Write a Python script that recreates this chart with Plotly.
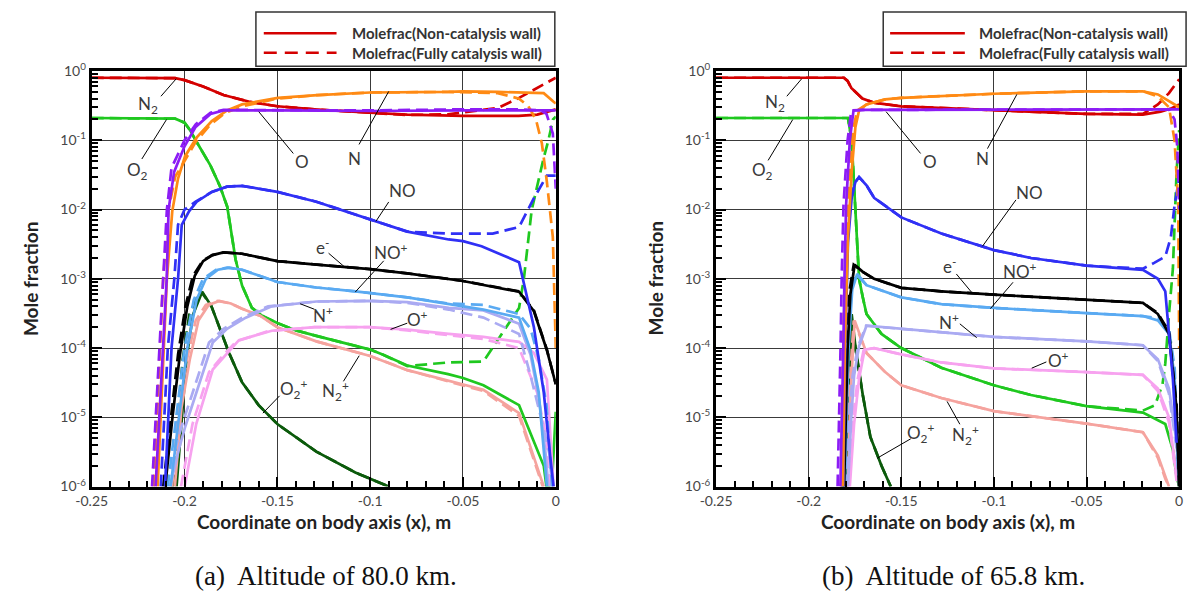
import math
import plotly.graph_objects as go

# ================= DATA =================
# ---- panel (a): altitude 80.0 km ----
A_N2_x = [-0.25, -0.21, -0.205, -0.2, -0.19, -0.179, -0.165, -0.15, -0.13, -0.1, -0.08, -0.05, -0.02, -0.01, -0.004, 0]
A_N2_s = [0.80, 0.80, 0.79, 0.74, 0.60, 0.45, 0.36, 0.31, 0.28, 0.25, 0.235, 0.225, 0.225, 0.235, 0.26, 0.28]
A_N2_dx = [-0.25, -0.21, -0.205, -0.2, -0.19, -0.179, -0.165, -0.15, -0.13, -0.1, -0.08, -0.058, -0.031, -0.0198, -0.0048, 0]
A_N2_d = [0.80, 0.80, 0.79, 0.74, 0.60, 0.45, 0.36, 0.31, 0.28, 0.25, 0.232, 0.237, 0.295, 0.41, 0.69, 0.80]

A_O2_x = [-0.25, -0.21, -0.205, -0.2, -0.197, -0.194, -0.19, -0.186, -0.181, -0.177, -0.1725, -0.169, -0.1637,
          -0.158, -0.15, -0.14, -0.129, -0.115, -0.1, -0.093, -0.08, -0.058, -0.05, -0.039, -0.0198, -0.0065,
          -0.0048, -0.002, 0]
A_O2_s = [0.21, 0.21, 0.205, 0.18, 0.14, 0.10, 0.065, 0.043, 0.022, 0.011, 1.9e-3, 8e-4, 3.8e-4,
          2.9e-4, 2.3e-4, 1.8e-4, 1.5e-4, 1.2e-4, 9.5e-5, 8e-5, 5.6e-5, 4.2e-5, 3.7e-5, 2.9e-5, 1.5e-5, 2e-6,
          9e-7, 1.2e-6, 1.2e-5]
A_O2_dx = [-0.25, -0.21, -0.205, -0.2, -0.197, -0.194, -0.19, -0.186, -0.181, -0.177, -0.1725, -0.169, -0.1637,
           -0.158, -0.15, -0.14, -0.129, -0.115, -0.1, -0.093, -0.08, -0.058, -0.039, -0.0243, -0.0198, -0.0172,
           -0.013, -0.0068, -0.004, -0.0015, 0]
A_O2_d = [0.21, 0.21, 0.205, 0.18, 0.14, 0.10, 0.065, 0.043, 0.022, 0.011, 1.9e-3, 8e-4, 3.8e-4,
          2.9e-4, 2.3e-4, 1.8e-4, 1.5e-4, 1.2e-4, 9.5e-5, 8e-5, 5.5e-5, 6.2e-5, 6.4e-5, 2.5e-4, 3.8e-4, 1e-3,
          9.8e-3, 0.052, 0.10, 0.20, 0.22]

A_O_x = [-0.2156, -0.2136, -0.2115, -0.2096, -0.2086, -0.2056, -0.2, -0.194, -0.186, -0.179, -0.15, -0.1, -0.05, -0.02, -0.005, 0]
A_O_s = [1e-6, 1e-5, 1e-4, 1e-3, 1e-2, 0.035, 0.082, 0.156, 0.24, 0.27, 0.27, 0.265, 0.27, 0.27, 0.27, 0.27]
A_O_dx = [-0.2175, -0.2155, -0.2135, -0.2115, -0.2095, -0.207, -0.2, -0.194, -0.186, -0.179, -0.15, -0.1, -0.05, -0.02,
          -0.008, -0.005, -0.0016, -0.0003, 0]
A_O_d = [1e-6, 1e-5, 1e-4, 1e-3, 1e-2, 0.04, 0.10, 0.17, 0.25, 0.275, 0.275, 0.27, 0.28, 0.28,
         0.27, 0.24, 0.125, 0.031, 0.02]

A_N_x = [-0.2145, -0.2115, -0.2095, -0.2066, -0.2035, -0.1997, -0.1934, -0.1853, -0.1771, -0.169, -0.1497, -0.1284,
         -0.1, -0.0577, -0.05, -0.0313, -0.0065, -0.0012, 0]
A_N_s = [1e-6, 5e-5, 1e-3, 9.5e-3, 0.028, 0.059, 0.11, 0.19, 0.27, 0.33, 0.41, 0.45,
         0.49, 0.50, 0.51, 0.50, 0.48, 0.36, 0.34]
A_N_dx = [-0.2165, -0.2135, -0.2115, -0.2086, -0.205, -0.2, -0.194, -0.186, -0.178, -0.169, -0.15, -0.1284,
          -0.1, -0.0577, -0.0313, -0.0198, -0.0148, -0.0107, -0.0075, -0.0048, -0.0016, 0]
A_N_d = [1e-6, 5e-5, 1e-3, 1e-2, 0.03, 0.05, 0.095, 0.17, 0.25, 0.31, 0.40, 0.45,
         0.49, 0.50, 0.48, 0.40, 0.31, 0.20, 0.09, 0.025, 4e-3, 1e-4]

A_NO_x = [-0.2105, -0.207, -0.2035, -0.2015, -0.1975, -0.1934, -0.1853, -0.1771, -0.169, -0.15, -0.129, -0.1, -0.08,
          -0.0577, -0.05, -0.04, -0.0198, -0.0118, -0.0065, -0.003, -0.0012]
A_NO_s = [1e-6, 1e-4, 1e-3, 6e-3, 9.5e-3, 0.013, 0.018, 0.0214, 0.022, 0.018, 0.013, 7.3e-3, 4.8e-3,
          3.7e-3, 3.5e-3, 2.95e-3, 1.74e-3, 2e-4, 2.3e-5, 2.7e-6, 1e-6]
A_NO_dx = [-0.2128, -0.209, -0.2055, -0.2035, -0.2, -0.194, -0.1853, -0.1771, -0.169, -0.15, -0.129, -0.1, -0.08,
           -0.0577, -0.034, -0.0198, -0.0118, -0.0048, 0]
A_NO_d = [1e-6, 1e-4, 1e-3, 6e-3, 0.010, 0.013, 0.018, 0.0214, 0.022, 0.018, 0.013, 7.3e-3, 4.8e-3,
          4.5e-3, 4.5e-3, 5.6e-3, 0.0146, 0.031, 0.031]

A_E_x = [-0.2104, -0.2065, -0.2025, -0.1985, -0.1945, -0.19, -0.185, -0.179, -0.169, -0.15, -0.129, -0.1, -0.08,
         -0.0577, -0.05, -0.0198, -0.0118, -0.0048, -0.0012, 0]
A_E_s = [1e-6, 1e-5, 8e-5, 4e-4, 1.1e-3, 1.8e-3, 2.2e-3, 2.4e-3, 2.3e-3, 1.8e-3, 1.6e-3, 1.38e-3, 1.2e-3,
         1.0e-3, 9.3e-4, 6.5e-4, 3.4e-4, 9.3e-5, 4e-5, 3e-5]
A_E_dx = [-0.2115, -0.2075, -0.2035, -0.1995, -0.1955, -0.19, -0.185, -0.179, -0.169, -0.15, -0.129, -0.1, -0.08,
          -0.0577, -0.05, -0.0198, -0.0118, -0.0048, -0.0012, 0]
A_E_d = [1e-6, 1e-5, 8e-5, 4e-4, 1.1e-3, 1.85e-3, 2.2e-3, 2.4e-3, 2.3e-3, 1.8e-3, 1.6e-3, 1.38e-3, 1.2e-3,
         1.0e-3, 9.3e-4, 6.6e-4, 3.5e-4, 9.5e-5, 4e-5, 3e-5]

A_NOP_x = [-0.2075, -0.203, -0.1985, -0.1935, -0.1885, -0.182, -0.176, -0.169, -0.15, -0.129, -0.108, -0.08,
           -0.0577, -0.039, -0.0198, -0.0136, -0.0092, -0.0048]
A_NOP_s = [1e-6, 1e-5, 1e-4, 5e-4, 1.0e-3, 1.35e-3, 1.45e-3, 1.35e-3, 9e-4, 7.5e-4, 6.6e-4, 5.4e-4,
           4.3e-4, 3.6e-4, 2.75e-4, 9.3e-5, 2.3e-5, 1e-6]
A_NOP_dx = [-0.209, -0.2045, -0.2, -0.195, -0.19, -0.183, -0.177, -0.169, -0.15, -0.129, -0.108, -0.08,
            -0.0577, -0.039, -0.0198, -0.0136, -0.0092, -0.005, -0.002]
A_NOP_d = [1e-6, 1e-5, 1e-4, 5e-4, 1.0e-3, 1.35e-3, 1.45e-3, 1.35e-3, 9e-4, 7.5e-4, 6.6e-4, 5.4e-4,
           4.4e-4, 4.2e-4, 3.1e-4, 1.9e-4, 7e-5, 1.5e-5, 1e-6]

A_NP_x = [-0.2078, -0.203, -0.1995, -0.1937, -0.1848, -0.1771, -0.167, -0.153, -0.129, -0.1, -0.08, -0.0577,
          -0.039, -0.0198, -0.0136, -0.009, -0.0055, -0.004]
A_NP_s = [1e-6, 3.5e-6, 7.5e-6, 2.3e-5, 1.2e-4, 1.9e-4, 2.75e-4, 4e-4, 4.7e-4, 4.8e-4, 4.6e-4, 3.8e-4,
          3.5e-4, 2.25e-4, 8e-5, 1.8e-5, 3e-6, 1e-6]
A_NP_dx = [-0.2098, -0.205, -0.2015, -0.1957, -0.1868, -0.179, -0.169, -0.155, -0.129, -0.1, -0.08, -0.0577,
           -0.039, -0.0198, -0.0136, -0.008, -0.0035, -0.002]
A_NP_d = [1e-6, 3.5e-6, 7.5e-6, 2.3e-5, 1.2e-4, 1.9e-4, 2.75e-4, 4e-4, 4.7e-4, 4.8e-4, 4.5e-4, 3.6e-4,
          2.75e-4, 1.6e-4, 4e-5, 1e-5, 3e-6, 1e-6]

A_OP_x = [-0.1999, -0.1937, -0.1848, -0.1771, -0.1707, -0.153, -0.13, -0.1, -0.08, -0.0577, -0.039, -0.0198,
          -0.0118, -0.0048, -0.0012]
A_OP_s = [1e-6, 8e-6, 4.9e-5, 8.5e-5, 1.3e-4, 1.78e-4, 2e-4, 2e-4, 1.85e-4, 1.6e-4, 1.45e-4, 1.23e-4,
          8.5e-5, 3.5e-5, 1e-6]
A_OP_dx = [-0.2019, -0.1957, -0.1868, -0.179, -0.172, -0.155, -0.13, -0.1, -0.08, -0.0577, -0.039, -0.0198,
           -0.0101, -0.005, -0.003]
A_OP_d = [1e-6, 8e-6, 4.5e-5, 8e-5, 1.25e-4, 1.75e-4, 2e-4, 2e-4, 1.8e-4, 1.55e-4, 1.35e-4, 1.0e-4,
          2.3e-5, 5e-6, 1e-6]

A_O2P_x = [-0.2043, -0.2016, -0.199, -0.1955, -0.1905, -0.1855, -0.1831, -0.176, -0.169, -0.1601, -0.15, -0.129,
           -0.108, -0.09]
A_O2P_s = [1e-6, 1e-5, 6.8e-5, 3e-4, 6.5e-4, 4e-4, 2.75e-4, 8.5e-5, 3.2e-5, 1.5e-5, 8e-6, 3.2e-6, 1.6e-6, 1e-6]
A_O2P_dx = [-0.2063, -0.2036, -0.201, -0.1975, -0.1915, -0.1855, -0.1831, -0.176, -0.169, -0.1601, -0.15, -0.129,
            -0.108, -0.09]
A_O2P_d = [1e-6, 1e-5, 6.8e-5, 3e-4, 6.8e-4, 4e-4, 2.75e-4, 8.5e-5, 3.2e-5, 1.5e-5, 8e-6, 3.2e-6, 1.6e-6, 1e-6]

A_N2P_x = [-0.2052, -0.2016, -0.1972, -0.1925, -0.187, -0.1813, -0.175, -0.169, -0.159, -0.15, -0.129, -0.1,
           -0.08, -0.0577, -0.05, -0.039, -0.0198, -0.0065]
A_N2P_s = [1e-6, 1.4e-5, 6.8e-5, 2.5e-4, 4.2e-4, 4.8e-4, 4.4e-4, 3.7e-4, 2.9e-4, 2e-4, 1.25e-4, 7.7e-5,
           4.8e-5, 3.4e-5, 3e-5, 2.5e-5, 1.15e-5, 1e-6]
A_N2P_dx = [-0.2067, -0.2031, -0.1987, -0.194, -0.1885, -0.1823, -0.175, -0.169, -0.159, -0.15, -0.129, -0.1,
            -0.08, -0.0577, -0.05, -0.039, -0.0198, -0.007]
A_N2P_d = [1e-6, 1.4e-5, 6.8e-5, 2.5e-4, 4.2e-4, 4.8e-4, 4.4e-4, 3.7e-4, 2.9e-4, 2e-4, 1.25e-4, 7.7e-5,
           4.8e-5, 3.3e-5, 2.9e-5, 2.4e-5, 1.05e-5, 1e-6]

# ---- panel (b): altitude 65.8 km ----
B_N2_x = [-0.25, -0.181, -0.179, -0.177, -0.171, -0.165, -0.15, -0.1, -0.05, -0.0196, -0.01, -0.004, 0]
B_N2_s = [0.80, 0.80, 0.72, 0.57, 0.40, 0.35, 0.31, 0.27, 0.24, 0.235, 0.26, 0.29, 0.33]
B_N2_dx = [-0.25, -0.181, -0.179, -0.177, -0.171, -0.165, -0.15, -0.1, -0.05, -0.0196, -0.0115, -0.0055, 0]
B_N2_d = [0.80, 0.80, 0.72, 0.57, 0.40, 0.35, 0.31, 0.27, 0.24, 0.24, 0.33, 0.48, 0.76]

B_O2_x = [-0.25, -0.1788, -0.1768, -0.1748, -0.1728, -0.1708, -0.1688, -0.1607, -0.15, -0.1284, -0.1, -0.08, -0.05,
          -0.0196, -0.0075, -0.0034, -0.0014, 0]
B_O2_s = [0.21, 0.21, 0.10, 9.5e-3, 1e-3, 5.4e-4, 3.1e-4, 1.6e-4, 1e-4, 5.2e-5, 2.9e-5, 2.1e-5, 1.45e-5,
          1.17e-5, 8e-6, 3.4e-6, 1.4e-6, 1e-6]
B_O2_dx = [-0.25, -0.1788, -0.1768, -0.1748, -0.1728, -0.1708, -0.1688, -0.1607, -0.15, -0.1284, -0.1, -0.08, -0.05,
           -0.0196, -0.013, -0.009, -0.0075, -0.0055, -0.0034, -0.0014, 0]
B_O2_d = [0.21, 0.21, 0.10, 9.5e-3, 1e-3, 5.4e-4, 3.1e-4, 1.6e-4, 1e-4, 5.2e-5, 2.9e-5, 2.1e-5, 1.45e-5,
          1.25e-5, 1.5e-5, 3e-5, 6e-5, 3.1e-4, 1.4e-3, 0.035, 0.14]

B_O_x = [-0.1829, -0.182, -0.1813, -0.1807, -0.1798, -0.1778, -0.1758, -0.17, -0.15, -0.1, -0.05, -0.02, -0.005, 0]
B_O_s = [1e-6, 1e-5, 1e-4, 1e-3, 0.0117, 0.10, 0.27, 0.275, 0.275, 0.275, 0.275, 0.28, 0.28, 0.28]
B_O_dx = [-0.1844, -0.1835, -0.1828, -0.1822, -0.1812, -0.179, -0.177, -0.17, -0.15, -0.1, -0.05, -0.02, -0.0055,
          -0.0025, -0.001, 0]
B_O_d = [1e-6, 1e-5, 1e-4, 1e-3, 0.0117, 0.10, 0.27, 0.275, 0.275, 0.275, 0.275, 0.28, 0.28,
         0.2, 0.08, 0.01]

B_N_x = [-0.1815, -0.1805, -0.1788, -0.1768, -0.1748, -0.1728, -0.1688, -0.1587, -0.15, -0.1, -0.05, -0.0196,
         -0.0115, -0.0055, 0]
B_N_s = [1e-6, 1e-4, 4e-3, 0.035, 0.155, 0.27, 0.33, 0.39, 0.41, 0.47, 0.51, 0.51, 0.46, 0.37, 0.30]
B_N_dx = [-0.1825, -0.1815, -0.1798, -0.1778, -0.1758, -0.1738, -0.1688, -0.1587, -0.15, -0.1, -0.05, -0.0196,
          -0.0115, -0.0055, -0.0025, -0.0005, 0]
B_N_d = [1e-6, 1e-4, 4e-3, 0.035, 0.155, 0.27, 0.33, 0.39, 0.41, 0.47, 0.51, 0.51,
         0.43, 0.30, 0.10, 0.012, 1e-4]

B_NO_x = [-0.1813, -0.1803, -0.1788, -0.1768, -0.1748, -0.1728, -0.1688, -0.1647, -0.15, -0.1284, -0.1, -0.08,
          -0.05, -0.0196, -0.0115, -0.0075, -0.0034, -0.0014]
B_NO_s = [1e-6, 1e-4, 3.3e-3, 0.0148, 0.025, 0.0295, 0.0224, 0.0148, 7.7e-3, 4.5e-3, 2.6e-3, 2e-3,
          1.55e-3, 1.35e-3, 1e-3, 6.6e-4, 3.6e-5, 4.3e-6]
B_NO_dx = [-0.1823, -0.1813, -0.1798, -0.1773, -0.1748, -0.1728, -0.1688, -0.1647, -0.15, -0.1284, -0.1, -0.08,
           -0.05, -0.0196, -0.0135, -0.0075, -0.0045, -0.0024, 0]
B_NO_d = [1e-6, 1e-4, 3.3e-3, 0.0148, 0.025, 0.0295, 0.0224, 0.0148, 7.7e-3, 4.5e-3, 2.6e-3, 2e-3,
          1.55e-3, 1.4e-3, 1.7e-3, 2.1e-3, 4e-3, 0.012, 0.028]

B_E_x = [-0.1809, -0.18, -0.179, -0.1775, -0.1752, -0.1708, -0.1647, -0.15, -0.1284, -0.1, -0.05, -0.0196,
         -0.0115, -0.0055, -0.0014, 0]
B_E_s = [1e-6, 1e-5, 1e-4, 6e-4, 1.6e-3, 1.26e-3, 1e-3, 7.4e-4, 6.6e-4, 5.9e-4, 5e-4, 4.5e-4,
         3.1e-4, 1.6e-4, 1.3e-5, 1e-6]
B_E_dx = [-0.1819, -0.181, -0.18, -0.1783, -0.1757, -0.1708, -0.1647, -0.15, -0.1284, -0.1, -0.05, -0.0196,
          -0.0115, -0.0055, -0.0014, 0]
B_E_d = [1e-6, 1e-5, 1e-4, 6e-4, 1.6e-3, 1.26e-3, 1e-3, 7.4e-4, 6.6e-4, 5.9e-4, 5e-4, 4.5e-4,
         3.2e-4, 1.7e-4, 1.5e-5, 1e-6]

B_NOP_x = [-0.1805, -0.1785, -0.1765, -0.1738, -0.1688, -0.15, -0.1284, -0.1, -0.05, -0.0196, -0.0115, -0.0055,
           -0.0024, -0.0004]
B_NOP_s = [1e-6, 1e-4, 7e-4, 1.18e-3, 8.1e-4, 5.4e-4, 4.3e-4, 3.8e-4, 3.2e-4, 2.9e-4, 2.5e-4, 1.6e-4,
           3.6e-5, 1.4e-6]
B_NOP_dx = [-0.1815, -0.1795, -0.1772, -0.1742, -0.1688, -0.15, -0.1284, -0.1, -0.05, -0.0196, -0.0115, -0.0055,
            -0.0024, -0.0004]
B_NOP_d = [1e-6, 1e-4, 7e-4, 1.15e-3, 8.1e-4, 5.4e-4, 4.3e-4, 3.8e-4, 3.2e-4, 2.9e-4, 2.7e-4, 1.9e-4,
           5e-5, 1.6e-6]

B_NP_x = [-0.1788, -0.177, -0.1755, -0.1728, -0.1688, -0.15, -0.1, -0.05, -0.0196, -0.0115, -0.0055, -0.0014, 0]
B_NP_s = [1e-6, 1e-5, 4e-5, 1.07e-4, 2.1e-4, 1.9e-4, 1.45e-4, 1.25e-4, 1.1e-4, 6.9e-5, 2.6e-5, 4.3e-6, 1e-6]
B_NP_dx = [-0.1798, -0.178, -0.1763, -0.1733, -0.169, -0.15, -0.1, -0.05, -0.0196, -0.0115, -0.0055, -0.0014, 0]
B_NP_d = [1e-6, 1e-5, 4e-5, 1.07e-4, 2.1e-4, 1.9e-4, 1.45e-4, 1.25e-4, 1.1e-4, 6.5e-5, 2.2e-5, 3.5e-6, 1e-6]

B_OP_x = [-0.1778, -0.1755, -0.1728, -0.1698, -0.1647, -0.15, -0.1284, -0.1, -0.05, -0.0196, -0.0115, -0.0055,
          -0.0014]
B_OP_s = [1e-6, 8e-6, 3.6e-5, 9.5e-5, 1e-4, 8.1e-5, 6.2e-5, 5.1e-5, 4.5e-5, 4.1e-5, 2.6e-5, 1e-5, 1.4e-6]
B_OP_dx = [-0.1788, -0.1765, -0.1735, -0.1703, -0.1647, -0.15, -0.1284, -0.1, -0.05, -0.0196, -0.0115, -0.0055,
           -0.0014]
B_OP_d = [1e-6, 8e-6, 3.6e-5, 9.5e-5, 1e-4, 8.1e-5, 6.2e-5, 5.1e-5, 4.5e-5, 4.1e-5, 2.4e-5, 8.5e-6, 1.2e-6]

B_O2P_x = [-0.1798, -0.1785, -0.1775, -0.1768, -0.1748, -0.1708, -0.1667, -0.1607, -0.1557]
B_O2P_s = [1e-6, 1e-5, 1e-4, 3.1e-4, 1.07e-4, 2.1e-5, 5.2e-6, 2e-6, 1e-6]
B_O2P_dx = [-0.1808, -0.1795, -0.1782, -0.1772, -0.175, -0.1708, -0.1667, -0.1607, -0.1557]
B_O2P_d = [1e-6, 1e-5, 1e-4, 3.0e-4, 1.07e-4, 2.1e-5, 5.2e-6, 2e-6, 1e-6]

B_N2P_x = [-0.1788, -0.1775, -0.1752, -0.1688, -0.1587, -0.15, -0.1284, -0.1, -0.05, -0.0196, -0.0115, -0.0075,
           -0.0055]
B_N2P_s = [1e-6, 2e-5, 2.5e-4, 8.5e-5, 4.5e-5, 2.9e-5, 1.9e-5, 1.23e-5, 8.1e-6, 6.1e-6, 2.8e-6, 1.4e-6, 1e-6]
B_N2P_dx = [-0.1798, -0.1783, -0.1757, -0.1688, -0.1587, -0.15, -0.1284, -0.1, -0.05, -0.0196, -0.0115, -0.0075,
            -0.0055]
B_N2P_d = [1e-6, 2e-5, 2.5e-4, 8.5e-5, 4.5e-5, 2.9e-5, 1.9e-5, 1.23e-5, 8.1e-6, 6.1e-6, 2.6e-6, 1.3e-6, 1e-6]

# Species labels (text) and their placement in data space (x in m, y as log10 of mole fraction)
LABEL_TEXT = ["N<sub>2</sub>", "O<sub>2</sub>", "O", "N", "NO", "e<sup>-</sup>", "NO<sup>+</sup>",
              "N<sup>+</sup>", "O<sup>+</sup>", "O<sub>2</sub><sup>+</sup>", "N<sub>2</sub><sup>+</sup>"]
A_LBL_X = [-0.2198, -0.2256, -0.1367, -0.1086, -0.0826, -0.1255, -0.089, -0.1255, -0.0747, -0.1409, -0.1186]
A_LBL_Y = [-0.49, -1.44, -1.31, -1.26, -1.73, -2.53, -2.60, -3.51, -3.58, -4.59, -4.62]
A_LD_X0 = [-0.2127, -0.223, -0.1414, -0.106, -0.090, -0.1224, -0.0927, -0.130, -0.080, -0.1488, -0.1144]
A_LD_Y0 = [-0.364, -1.27, -1.19, -1.06, -1.89, -2.63, -2.74, -3.44, -3.64, -4.69, -4.48]
A_LD_X1 = [-0.2045, -0.2097, -0.160, -0.090, -0.0969, -0.1133, -0.108, -0.1377, -0.089, -0.1578, -0.1059]
A_LD_Y1 = [-0.112, -0.70, -0.587, -0.294, -2.17, -2.84, -3.19, -3.36, -3.73, -4.94, -4.11]

B_LBL_X = [-0.2182, -0.225, -0.1346, -0.1062, -0.0807, -0.1242, -0.086, -0.1242, -0.0653, -0.1396, -0.1152]
B_LBL_Y = [-0.46, -1.44, -1.31, -1.26, -1.75, -2.81, -2.88, -3.61, -4.17, -5.22, -5.26]
B_LD_X0 = [-0.2118, -0.2219, -0.1396, -0.1035, -0.0881, -0.1203, -0.0897, -0.1184, -0.0717, -0.1449, -0.1184]
B_LD_Y0 = [-0.364, -1.29, -1.19, -1.12, -1.86, -2.93, -3.05, -3.65, -4.20, -5.31, -5.10]
B_LD_X1 = [-0.2038, -0.2086, -0.1582, -0.0876, -0.1062, -0.1122, -0.1019, -0.1093, -0.0796, -0.163, -0.1253]
B_LD_Y1 = [-0.112, -0.70, -0.587, -0.336, -2.53, -3.19, -3.43, -3.85, -4.29, -5.59, -4.77]

X_TICKS = [-0.25, -0.2, -0.15, -0.1, -0.05, 0]
X_TICK_TEXT = ["-0.25", "-0.2", "-0.15", "-0.1", "-0.05", "0"]
Y_TICKS = [1e-6, 1e-5, 1e-4, 1e-3, 1e-2, 1e-1, 1]
Y_TICK_TEXT = ["10<sup>-6</sup>", "10<sup>-5</sup>", "10<sup>-4</sup>", "10<sup>-3</sup>",
               "10<sup>-2</sup>", "10<sup>-1</sup>", "10<sup>0</sup>"]

LEGEND_TEXT = ["Molefrac(Non-catalysis wall)", "Molefrac(Fully catalysis wall)"]
CAPTIONS = ["(a)  Altitude of 80.0 km.", "(b)  Altitude of 65.8 km."]

# ================= STYLE =================
COLORS = {
    "N2": "#d40000", "O2": "#1fc81f", "O": "#8c1cf5", "N": "#ff8a14", "NO": "#3030f5",
    "E": "#000000", "NOP": "#5aaaf2", "NP": "#aaaaf2", "OP": "#f7a2ef", "O2P": "#0b5a0b", "N2P": "#f5a39e",
}
W = 1194
H = 605
DASH = "12px,6px"
LW = 2.7
SANS = "Lato, Open Sans, sans-serif"
TICKFONT = dict(family=SANS, size=14, color="#474747")
LABELFONT = dict(family=SANS, size=17, color="#3a3a3a")


def px(x):
    return x / W


def py(y):
    return 1 - y / H


panels = {
    "A": dict(xa="x", ya="y", curves=[
        ("N2", A_N2_x, A_N2_s, A_N2_dx, A_N2_d), ("O2", A_O2_x, A_O2_s, A_O2_dx, A_O2_d),
        ("O2P", A_O2P_x, A_O2P_s, A_O2P_dx, A_O2P_d), ("N2P", A_N2P_x, A_N2P_s, A_N2P_dx, A_N2P_d),
        ("OP", A_OP_x, A_OP_s, A_OP_dx, A_OP_d), ("NP", A_NP_x, A_NP_s, A_NP_dx, A_NP_d),
        ("NOP", A_NOP_x, A_NOP_s, A_NOP_dx, A_NOP_d), ("E", A_E_x, A_E_s, A_E_dx, A_E_d),
        ("NO", A_NO_x, A_NO_s, A_NO_dx, A_NO_d), ("N", A_N_x, A_N_s, A_N_dx, A_N_d),
        ("O", A_O_x, A_O_s, A_O_dx, A_O_d)],
        labels=(A_LBL_X, A_LBL_Y, A_LD_X0, A_LD_Y0, A_LD_X1, A_LD_Y1)),
    "B": dict(xa="x2", ya="y2", curves=[
        ("N2", B_N2_x, B_N2_s, B_N2_dx, B_N2_d), ("O2", B_O2_x, B_O2_s, B_O2_dx, B_O2_d),
        ("O2P", B_O2P_x, B_O2P_s, B_O2P_dx, B_O2P_d), ("N2P", B_N2P_x, B_N2P_s, B_N2P_dx, B_N2P_d),
        ("OP", B_OP_x, B_OP_s, B_OP_dx, B_OP_d), ("NP", B_NP_x, B_NP_s, B_NP_dx, B_NP_d),
        ("NOP", B_NOP_x, B_NOP_s, B_NOP_dx, B_NOP_d), ("E", B_E_x, B_E_s, B_E_dx, B_E_d),
        ("NO", B_NO_x, B_NO_s, B_NO_dx, B_NO_d), ("N", B_N_x, B_N_s, B_N_dx, B_N_d),
        ("O", B_O_x, B_O_s, B_O_dx, B_O_d)],
        labels=(B_LBL_X, B_LBL_Y, B_LD_X0, B_LD_Y0, B_LD_X1, B_LD_Y1)),
}

fig = go.Figure()
annotations = []
shapes = []

for key, p in panels.items():
    for name, xs, ys, xd, yd in p["curves"]:
        fig.add_trace(go.Scatter(x=xd, y=yd, mode="lines", xaxis=p["xa"], yaxis=p["ya"],
                                 line=dict(color=COLORS[name], width=LW, dash=DASH),
                                 showlegend=False, hoverinfo="skip"))
        fig.add_trace(go.Scatter(x=xs, y=ys, mode="lines", xaxis=p["xa"], yaxis=p["ya"],
                                 line=dict(color=COLORS[name], width=LW),
                                 showlegend=False, hoverinfo="skip"))
    lx, ly, x0, y0, x1, y1 = p["labels"]
    for i, t in enumerate(LABEL_TEXT):
        # leader line, drawn through the axes' own log scale
        fig.add_trace(go.Scatter(x=[x0[i], x1[i]], y=[10 ** y0[i], 10 ** y1[i]], mode="lines",
                                 xaxis=p["xa"], yaxis=p["ya"], line=dict(color="black", width=1),
                                 showlegend=False, hoverinfo="skip"))
        annotations.append(dict(x=lx[i], y=ly[i], xref=p["xa"], yref=p["ya"], text=t, showarrow=False,
                                font=LABELFONT, xanchor="center", yanchor="middle"))

# legends (one per panel)
for bx0, bx1, lx0, lx1, tx in [(244, 548, 252, 326, 340), (882, 1190, 889, 965, 977)]:
    shapes.append(dict(type="rect", xref="paper", yref="paper", x0=px(bx0), x1=px(bx1), y0=py(57), y1=py(1),
                       line=dict(color="#333333", width=1.5), fillcolor="white", layer="above"))
    for k, yy in enumerate([23, 43]):
        shapes.append(dict(type="line", xref="paper", yref="paper", x0=px(lx0), x1=px(lx1), y0=py(yy), y1=py(yy),
                           line=dict(color=COLORS["N2"], width=2.5, dash="solid" if k == 0 else "13px,8px")))
        annotations.append(dict(x=px(tx), y=py(yy), xref="paper", yref="paper", text="<b>%s</b>" % LEGEND_TEXT[k],
                                showarrow=False, xanchor="left", yanchor="middle",
                                font=dict(family=SANS, size=15, color="#333333")))

# axis titles and captions
for cx, ytx in [(313, 15), (947.5, 650)]:
    annotations.append(dict(x=px(cx), y=py(527), xref="paper", yref="paper", xanchor="center", yanchor="middle",
                            text="<b>Coordinate on body axis (x), m</b>", showarrow=False,
                            font=dict(family=SANS, size=19, color="#222222")))
    annotations.append(dict(x=px(ytx), y=py(276), xref="paper", yref="paper", xanchor="center", yanchor="middle",
                            text="<b>Mole fraction</b>", showarrow=False, textangle=-90,
                            font=dict(family=SANS, size=19, color="#222222")))
for cx, cap in zip([315, 953], CAPTIONS):
    annotations.append(dict(x=px(cx), y=py(583), xref="paper", yref="paper", xanchor="center", yanchor="middle",
                            text=cap, showarrow=False,
                            font=dict(family="Liberation Serif, DejaVu Serif, serif", size=27, color="#111111")))

xaxis_common = dict(range=[-0.25, 0], tickmode="array", tickvals=X_TICKS, ticktext=X_TICK_TEXT,
                    ticks="inside", ticklen=10, tickwidth=2, tickcolor="black",
                    minor=dict(dtick=0.01, ticks="inside", ticklen=6, tickwidth=1.5, tickcolor="black",
                               showgrid=False),
                    showgrid=True, gridcolor="#3a3a3a", gridwidth=1, zeroline=False,
                    showline=True, linecolor="black", linewidth=3, mirror=True,
                    tickfont=TICKFONT, fixedrange=True)
yaxis_common = dict(type="log", range=[-6, 0], tickmode="array", tickvals=Y_TICKS, ticktext=Y_TICK_TEXT,
                    ticks="inside", ticklen=10, tickwidth=2, tickcolor="black",
                    minor=dict(dtick="D1", ticks="inside", ticklen=6, tickwidth=1.5, tickcolor="black",
                               showgrid=False),
                    showgrid=True, gridcolor="#3a3a3a", gridwidth=1, zeroline=False,
                    showline=True, linecolor="black", linewidth=3, mirror=True,
                    tickfont=TICKFONT, fixedrange=True)

fig.update_layout(
    width=W, height=H, autosize=False,
    margin=dict(l=0, r=0, t=0, b=0),
    paper_bgcolor="white", plot_bgcolor="white",
    showlegend=False, hovermode=False,
    xaxis=dict(domain=[px(77), px(549)], anchor="y", **xaxis_common),
    yaxis=dict(domain=[py(491), py(62)], anchor="x", **yaxis_common),
    xaxis2=dict(domain=[px(712), px(1183)], anchor="y2", **xaxis_common),
    yaxis2=dict(domain=[py(491), py(62)], anchor="x2", **yaxis_common),
    shapes=shapes, annotations=annotations,
)

fig.write_html("out.html")
